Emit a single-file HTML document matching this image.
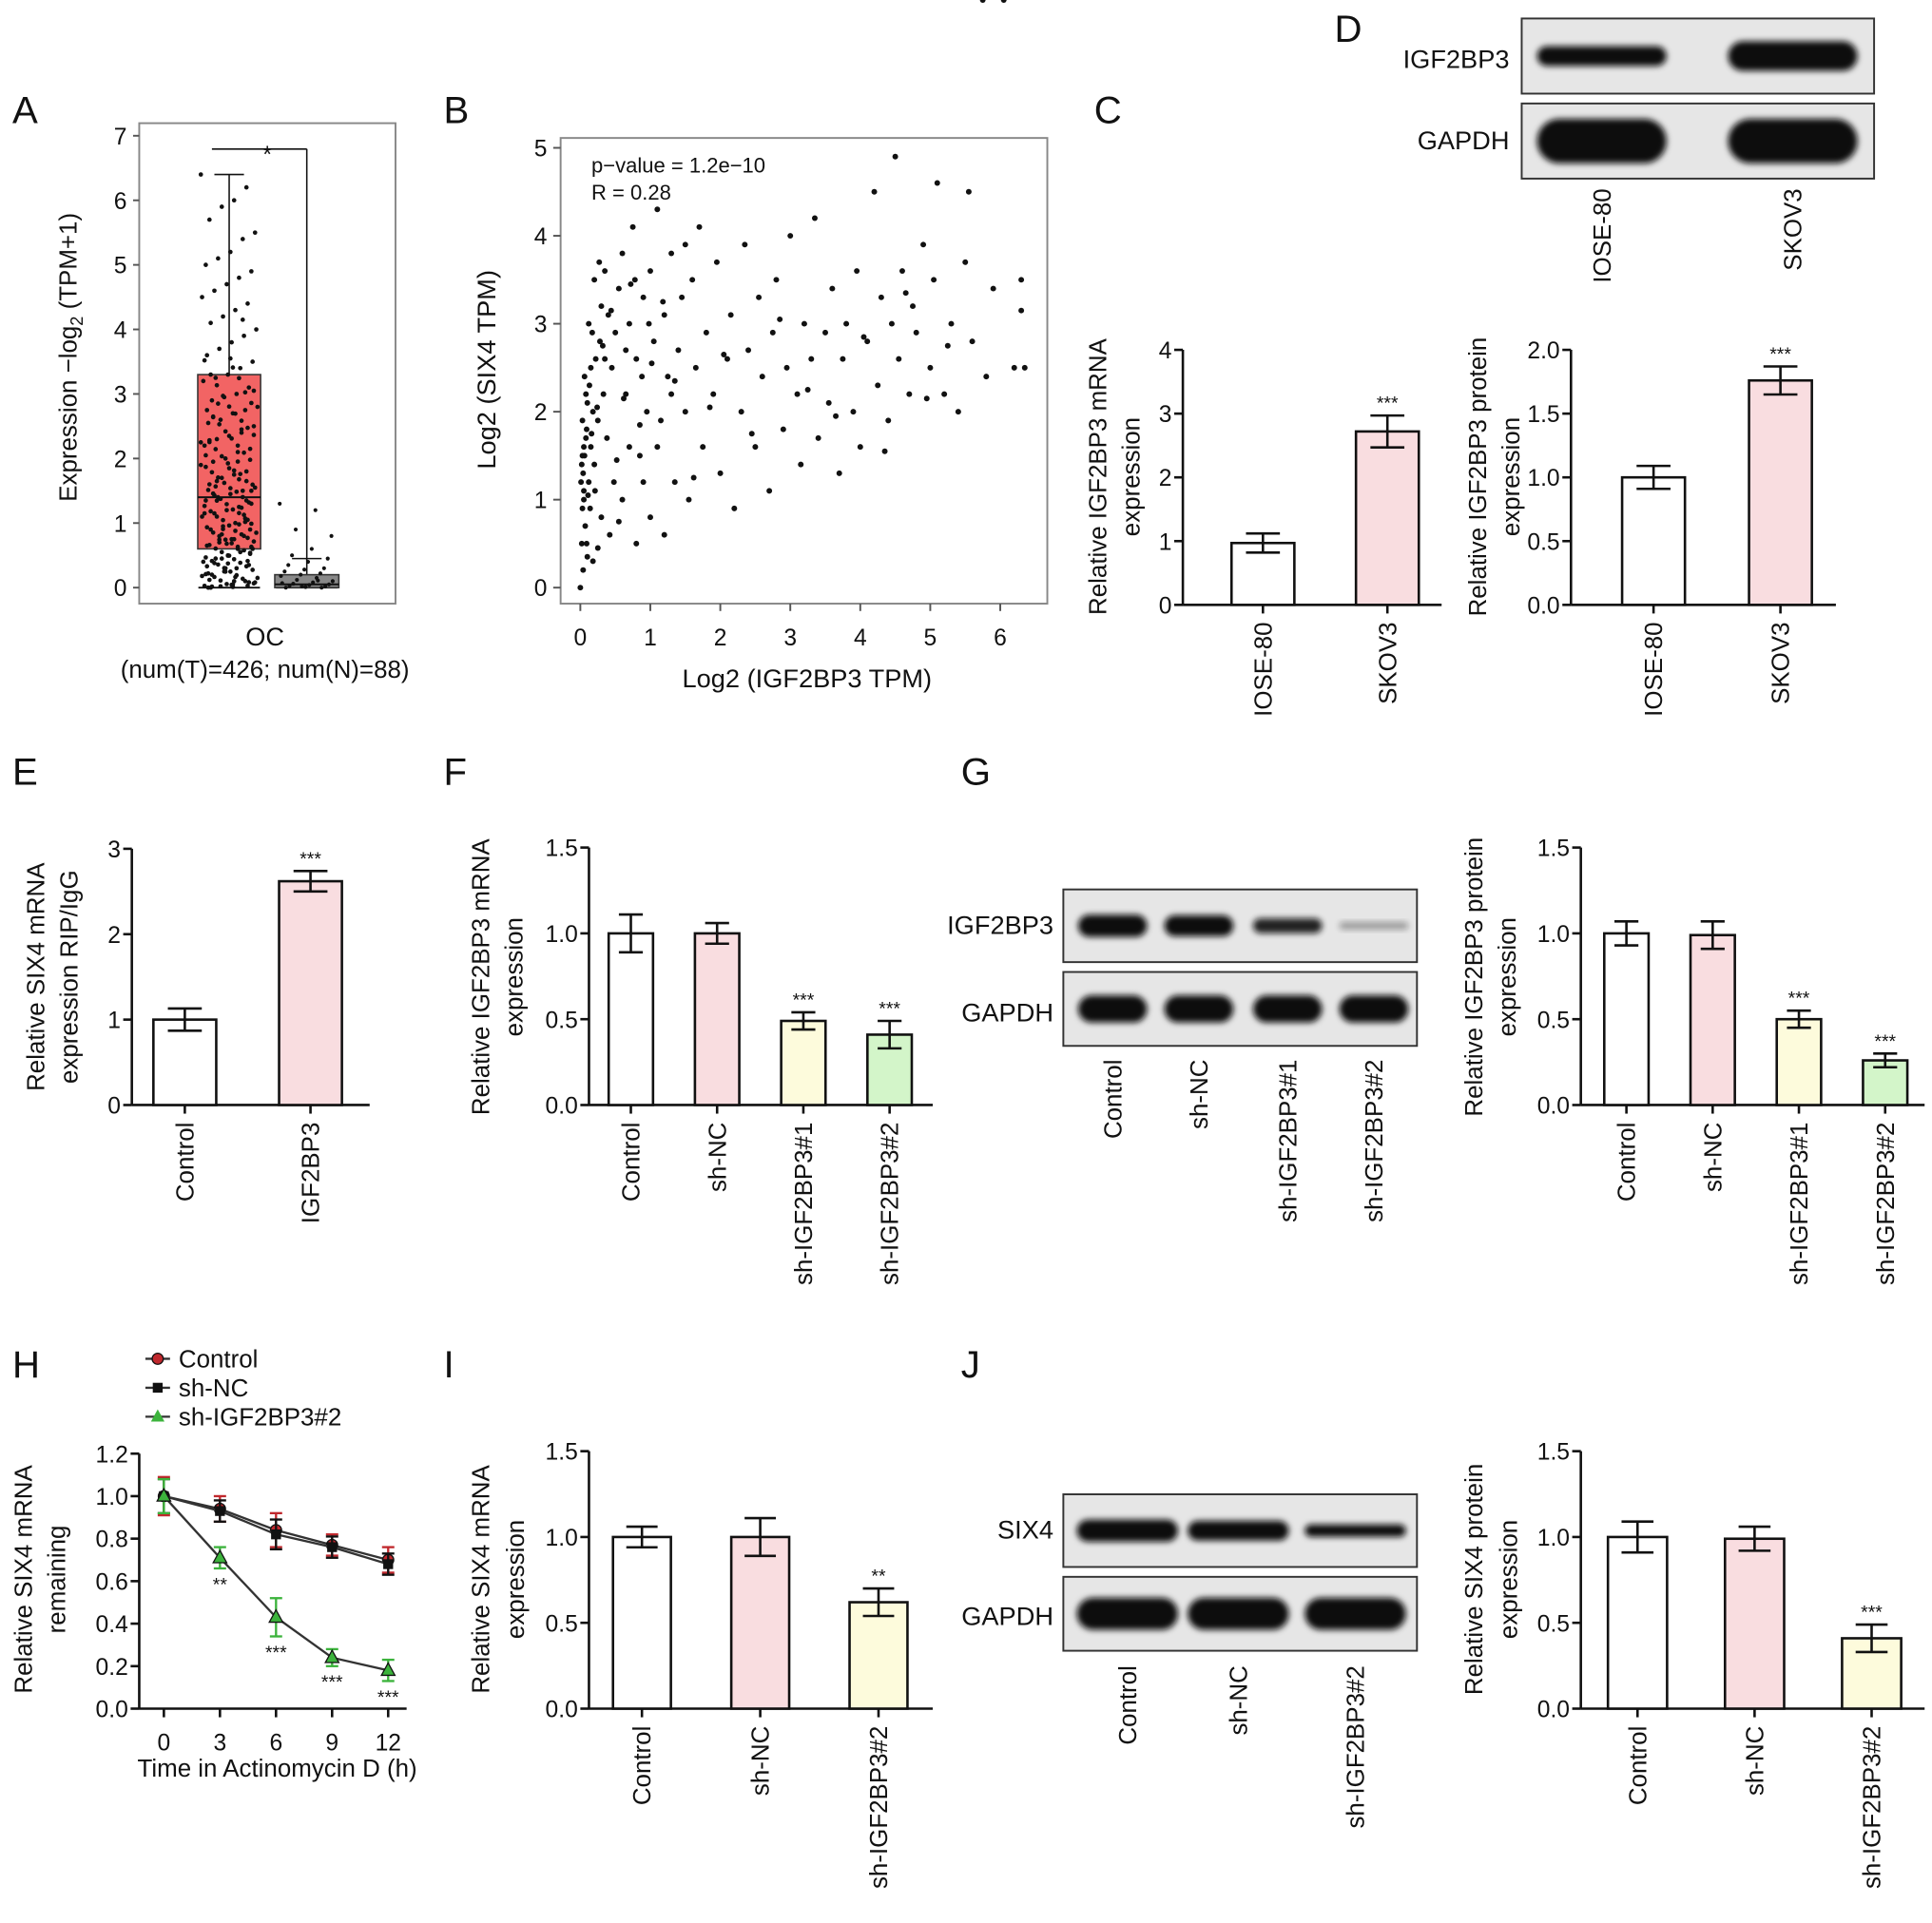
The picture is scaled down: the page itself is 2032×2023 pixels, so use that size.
<!DOCTYPE html>
<html><head><meta charset="utf-8"><style>
html,body{margin:0;padding:0;background:#fff;}
svg{display:block;font-family:"Liberation Sans",Arial,sans-serif;}
</style></head><body>
<svg id="fig" xmlns="http://www.w3.org/2000/svg" width="2032" height="2023" viewBox="0 0 1568 1561" preserveAspectRatio="none">
<defs><filter id="blur" x="-20%" y="-50%" width="140%" height="200%"><feGaussianBlur stdDeviation="2.5"/></filter></defs>
<rect x="0" y="0" width="1568" height="1561" fill="#fff"/>
</svg>
<script>
// ---------- DATA ----------
const aTumorVals=[6.4,6.2,6.0,5.9,5.7,5.5,5.4,5.2,5.1,5.0,4.9,4.8,4.7,4.6,4.5,4.4,4.3,4.2,4.1,4.0,3.9,3.8,3.7,3.6,3.5,3.4,3.3,3.25,3.2,3.1,3.0,2.95,2.9,2.8,2.75,2.7,2.6,2.55,2.5,2.4,2.35,2.3,2.2,2.15,2.1,2.0,1.95,1.9,1.8,1.75,1.7,1.6,1.55,1.5,1.45,1.4,1.35,1.3,1.25,1.2,1.15,1.1,1.05,1.0,0.95,0.9,0.85,0.8,0.75,0.7,0.65,0.6,0.55,0.5,0.45,0.4,0.35,0.3,0.25,0.2,0.15,0.1,0.05,0.02,0.0,3.05,2.45,1.85,1.65,1.15,0.9,0.6,0.3,2.65,2.25,1.35,0.75,0.45,0.12,0.08,4.15,3.55,2.85,2.05,1.5,0.98,0.68,0.38,0.18,0.03];
const aNormalVals=[1.3,1.2,0.9,0.8,0.6,0.5,0.45,0.4,0.35,0.3,0.28,0.25,0.22,0.2,0.18,0.15,0.12,0.1,0.08,0.06,0.05,0.04,0.03,0.02,0.01,0.0,0.0,0.02,0.07,0.11];
const aBoxStats=[[0,0.6,1.4,3.3,6.4],[0,0.0,0.05,0.2,0.45]];
const bX=[0,0.02,0.03,0.05,0.04,0.06,0.08,0.03,0.1,0.05,0.07,0.12,0.15,0.02,0.09,0.13,0.18,0.2,0.22,0.1,0.25,0.28,0.3,0.17,0.35,0.4,0.33,0.45,0.38,0.5,0.55,0.6,0.48,0.42,0.3,0.25,0.65,0.7,0.75,0.8,0.85,0.9,0.95,1.0,1.05,1.1,1.15,1.2,1.25,1.3,1.35,1.4,1.45,1.5,1.55,1.6,1.65,1.7,1.75,1.8,1.9,1.95,2.0,2.1,2.15,2.2,2.3,2.35,2.4,2.5,2.55,2.6,2.7,2.75,2.8,2.9,2.95,3.0,3.1,3.15,3.2,3.3,3.35,3.4,3.5,3.55,3.6,3.7,3.75,3.8,3.9,3.95,4.0,4.1,4.2,4.25,4.3,4.4,4.45,4.5,4.55,4.6,4.7,4.75,4.8,4.9,5.0,5.05,5.1,5.2,5.3,5.4,5.5,5.55,5.6,5.8,5.9,6.2,6.3,6.35,6.3,0.6,0.7,0.8,0.9,1.0,1.1,1.2,0.55,0.65,0.78,0.88,0.98,1.3,1.5,0.12,0.2,0.27,0.35,0.15,0.08,0.05,0.14,0.21,0.04,0.09,0.18,0.01,0.03,0.06,0.11,0.16,0.24,0.32,0.44,0.52,0.62,0.72,0.85,1.02,1.18,1.35,1.62,1.85,2.05,2.45,2.85,3.25,3.65,4.05,4.35,4.65,4.95,5.25,5.75,6.05];
const bY=[0,0.5,0.9,1.1,1.3,1.5,1.7,1.9,2.1,1.0,0.7,1.2,1.6,1.4,1.8,2.3,2.0,1.4,2.6,0.35,1.9,2.8,3.2,2.9,3.6,3.1,2.2,2.5,1.7,2.9,3.4,3.8,1.2,0.6,0.8,0.45,2.2,3.0,4.1,2.6,1.5,3.3,2.0,3.6,2.8,4.3,1.9,3.1,2.4,3.8,1.2,2.7,3.3,2.0,1.0,3.5,2.5,4.1,1.6,2.9,2.2,3.7,1.3,2.6,3.1,0.9,2.0,3.9,2.7,1.6,3.3,2.4,1.1,2.9,3.5,1.8,2.5,4.0,2.2,1.4,3.0,2.6,4.2,1.7,2.9,2.1,3.4,1.3,2.6,3.0,2.0,3.6,1.6,2.8,4.5,2.3,3.3,1.9,3.0,4.9,2.6,3.6,2.2,3.2,2.9,3.9,2.5,3.5,4.6,2.2,3.0,2.0,3.7,4.5,2.8,2.4,3.4,2.5,3.5,2.5,3.15,1.0,1.6,0.5,1.2,0.8,1.6,0.6,0.75,2.7,3.5,2.4,3.0,2.2,3.9,3.0,3.5,3.7,2.6,2.5,2.2,1.6,0.9,1.1,0.2,0.5,0.3,1.2,1.5,2.4,1.05,1.75,2.05,2.75,3.15,1.45,2.15,3.45,1.85,2.55,3.25,2.35,1.25,2.05,2.65,1.75,3.05,2.25,1.95,2.85,1.55,3.35,2.15,2.75];
const cCats=['IOSE-80','SKOV3'],cVals=[0.97,2.72],cErrs=[0.15,0.25],cSig=['','***'],cTicks=[0,1,2,3,4];
const dCats=['IOSE-80','SKOV3'],dVals=[1.0,1.76],dErrs=[0.09,0.11],dSig=['','***'],dTicks=[0,0.5,1.0,1.5,2.0];
const dBandTop=[16,24],dBandBot=[36,36];
const eCats=['Control','IGF2BP3'],eVals=[1.0,2.62],eErrs=[0.13,0.12],eSig=['','***'],eTicks=[0,1,2,3];
const fCats=['Control','sh-NC','sh-IGF2BP3#1','sh-IGF2BP3#2'],fVals=[1.0,1.0,0.49,0.41],fErrs=[0.11,0.06,0.05,0.08],fSig=['','','***','***'],fTicks=[0,0.5,1.0,1.5];
const gCats=['Control','sh-NC','sh-IGF2BP3#1','sh-IGF2BP3#2'],gVals=[1.0,0.99,0.5,0.26],gErrs=[0.07,0.08,0.05,0.04],gSig=['','','***','***'],gTicks=[0,0.5,1.0,1.5];
const gBandTop=[18,17,12,6],gBandTopOp=[1,1,0.9,0.35],gBandBot=[22,22,22,22];
const hTimes=[0,3,6,9,12],hTicksY=[0,0.2,0.4,0.6,0.8,1.0,1.2];
const hControl=[1.0,0.94,0.84,0.77,0.70],hShNC=[1.0,0.93,0.82,0.76,0.68],hSh2=[1.0,0.71,0.43,0.24,0.18];
const hErrC=[0.09,0.06,0.08,0.05,0.06],hErrN=[0.08,0.05,0.07,0.05,0.05],hErr2=[0.08,0.05,0.09,0.04,0.05],hSig=['','**','***','***','***'];
const iCats=['Control','sh-NC','sh-IGF2BP3#2'],iVals=[1.0,1.0,0.62],iErrs=[0.06,0.11,0.08],iSig=['','','**'],iTicks=[0,0.5,1.0,1.5];
const jCats=['Control','sh-NC','sh-IGF2BP3#2'],jVals=[1.0,0.99,0.41],jErrs=[0.09,0.07,0.08],jSig=['','','***'],jTicks=[0,0.5,1.0,1.5];
const jBandTop=[18,16,10],jBandBot=[26,26,26];
const fills4=['#ffffff','#f9dde0','#fdfbdc','#d3f5c9'];

// ---------- HELPERS ----------
const NS='http://www.w3.org/2000/svg';
const svg=document.getElementById('fig');
function mk(tag,attrs,name,parent){
  const e=document.createElementNS(NS,tag);
  for(const k in attrs)e.setAttribute(k,attrs[k]);
  
  
  (parent||svg).appendChild(e);return e;
}
function txt(x,y,s,size,anchor,name,rot){
  const a={x:x,y:y,'font-size':size,'text-anchor':anchor||'start',fill:'#111'};
  if(rot)a.transform='rotate('+rot+' '+x+' '+y+')';
  const t=mk('text',a,name);t.textContent=s;return t;
}
function line(x1,y1,x2,y2,name,w,c){return mk('line',{x1:x1,y1:y1,x2:x2,y2:y2,stroke:c||'#111','stroke-width':w||2},name);}
function fmt(v,dec){return dec?v.toFixed(1):String(v);}
function yAxis(ax,y0,yT,vmax,ticks,dec,prefix){
  line(ax,y0,ax,yT,prefix+'-y-axis');
  ticks.forEach(t=>{const y=y0-(y0-yT)*t/vmax;line(ax-7,y,ax,y,prefix+'-y-tick');txt(ax-9,y+7,fmt(t,dec),19,'end',prefix+'-y-tick-label');});
}
function barChart(p,cfg,cats,vals,errs,sig,ticks){
  const {ax,y0,yT,vmax,c0,step,bw,end,dec}=cfg;
  const sc=v=>y0-(y0-yT)*v/vmax;
  yAxis(ax,y0,yT,vmax,ticks,dec,p);
  line(ax,y0,end,y0,p+'-x-axis');
  cats.forEach((c,i)=>{
    const cx=c0+i*step,v=vals[i],e=errs[i];
    mk('rect',{x:cx-bw/2,y:sc(v),width:bw,height:y0-sc(v),fill:fills4[i],stroke:'#111','stroke-width':2},p+'-bar-'+c.toLowerCase());
    line(cx,sc(v-e),cx,sc(v+e),p+'-error-bar');
    line(cx-bw*0.27,sc(v+e),cx+bw*0.27,sc(v+e),p+'-error-cap');
    line(cx-bw*0.27,sc(v-e),cx+bw*0.27,sc(v-e),p+'-error-cap');
    line(cx,y0,cx,y0+7,p+'-x-tick');
    if(sig[i])txt(cx,sc(v+e)-5,sig[i],15,'middle',p+'-significance');
    txt(cx+7,y0+14,c,20,'end',p+'-x-label',-90);
  });
}
function blot(x,y,w,h,centers,bw,heights,ops,name){
  mk('rect',{x:x,y:y,width:w,height:h,fill:'#e6e6e6',stroke:'#333','stroke-width':1.5},name+'-membrane');
  centers.forEach((cx,i)=>{
    mk('rect',{x:cx-bw/2,y:y+h/2-heights[i]/2,width:bw,height:heights[i],rx:heights[i]/2,fill:'#111',opacity:ops?ops[i]:1,filter:'url(#blur)'},name+'-band');
  });
}

// ---------- PANEL LETTERS ----------
[['A',10,100],['B',360,100],['C',888,100],['D',1083,34],['E',10,637],['F',360,637],['G',780,637],['H',10,1118],['I',360,1118],['J',780,1118]].forEach(l=>txt(l[1],l[2],l[0],31,'start','panel-letter-'+l[0].toLowerCase()));

// ---------- A ----------
(function(){
  const y0=477,per=52.4,sy=v=>y0-v*per;
  mk('rect',{x:113,y:100,width:208,height:390,fill:'none',stroke:'#888','stroke-width':1.5},'a-plot-frame');
  [0,1,2,3,4,5,6,7].forEach(t=>{line(108,sy(t),113,sy(t),'a-y-tick',1.5,'#555');txt(103,sy(t)+7,String(t),19,'end','a-y-tick-label');});
  const cents=[186,249],ws=[51,52],fills=['#f26464','#888'];
  aBoxStats.forEach((s,i)=>{
    const cx=cents[i];
    line(cx,sy(s[3]),cx,sy(s[4]),'a-whisker',1.2);line(cx-12,sy(s[4]),cx+12,sy(s[4]),'a-whisker-cap',1.2);
    line(cx-25,sy(s[0]),cx+25,sy(s[0]),'a-whisker-cap',1.5);
    mk('rect',{x:cx-ws[i]/2,y:sy(s[3]),width:ws[i],height:Math.max(2,sy(s[1])-sy(s[3])),fill:fills[i],stroke:'#333','stroke-width':1.2},'a-box');
    line(cx-ws[i]/2,sy(s[2]),cx+ws[i]/2,sy(s[2]),'a-median',1.5);
  });
  aTumorVals.forEach((v,i)=>{mk('circle',{cx:186+((i*37)%47)-23,cy:sy(v),r:1.8,fill:'#111'},'a-tumor-point');});
  aTumorVals.forEach((v,i)=>{mk('circle',{cx:186+((i*23)%41)-20,cy:sy(v*0.55),r:1.8,fill:'#111'},'a-tumor-point');});
  aNormalVals.forEach((v,i)=>{mk('circle',{cx:249+((i*29)%45)-22,cy:sy(v),r:1.6,fill:'#111'},'a-normal-point');});
  line(172,121,249,121,'a-sig-bracket',1.2);line(249,121,249,455,'a-sig-bracket',1.2);
  txt(217,132,'*',19,'middle','a-significance');
  txt(215,524,'OC',21,'middle','a-x-label');
  txt(215,550,'(num(T)=426; num(N)=88)',20,'middle','a-sample-sizes');
  const t=txt(62,290,'',20,'middle','a-y-axis-title',-90);
  t.innerHTML='Expression −log<tspan font-size="14" dy="5">2</tspan><tspan dy="-5"> (TPM+1)</tspan>';
})();

// ---------- B ----------
(function(){
  const sx=v=>471+v*56.8,sy=v=>477-v*71.4;
  mk('rect',{x:455,y:112,width:395,height:378,fill:'none',stroke:'#888','stroke-width':1.5},'b-plot-frame');
  [0,1,2,3,4,5,6].forEach(t=>{line(sx(t),490,sx(t),496,'b-x-tick',1.5,'#555');txt(sx(t),524,String(t),19,'middle','b-x-tick-label');});
  [0,1,2,3,4,5].forEach(t=>{line(449,sy(t),455,sy(t),'b-y-tick',1.5,'#555');txt(444,sy(t)+7,String(t),19,'end','b-y-tick-label');});
  bX.forEach((x,i)=>{mk('circle',{cx:sx(x),cy:sy(bY[i]),r:2.3,fill:'#111'},'b-point');});
  txt(480,140,'p−value = 1.2e−10',17,'start','b-p-value');
  txt(480,162,'R = 0.28',17,'start','b-r-value');
  txt(655,558,'Log2 (IGF2BP3 TPM)',21,'middle','b-x-axis-title');
  txt(402,300,'Log2 (SIX4 TPM)',21,'middle','b-y-axis-title',-90);
})();

// ---------- C ----------
barChart('c',{ax:960,y0:491,yT:284,vmax:4,c0:1025,step:101,bw:51,end:1170,dec:false},cCats,cVals,cErrs,cSig,cTicks);
txt(898,387,'Relative IGF2BP3 mRNA',20,'middle','c-y-axis-title',-90);
txt(925,387,'expression',20,'middle','c-y-axis-title-2',-90);

// ---------- D ----------
blot(1235,15,286,61,[1300,1455],105,dBandTop,null,'d-blot-igf2bp3');
blot(1235,84,286,61,[1300,1455],105,dBandBot,null,'d-blot-gapdh');
txt(1225,55,'IGF2BP3',21,'end','d-blot-label-igf2bp3');
txt(1225,121,'GAPDH',21,'end','d-blot-label-gapdh');
dCats.forEach((c,i)=>txt([1300,1455][i]+7,153,c,20,'end','d-lane-label',-90));
barChart('d',{ax:1275,y0:491,yT:284,vmax:2,c0:1342,step:103,bw:51,end:1490,dec:true},dCats,dVals,dErrs,dSig,dTicks);
txt(1206,387,'Relative IGF2BP3 protein',20,'middle','d-y-axis-title',-90);
txt(1233,387,'expression',20,'middle','d-y-axis-title-2',-90);

// ---------- E ----------
barChart('e',{ax:107,y0:897,yT:689,vmax:3,c0:150,step:102,bw:51,end:300,dec:false},eCats,eVals,eErrs,eSig,eTicks);
txt(36,793,'Relative SIX4 mRNA',20,'middle','e-y-axis-title',-90);
txt(63,793,'expression RIP/IgG',20,'middle','e-y-axis-title-2',-90);

// ---------- F ----------
barChart('f',{ax:478,y0:897,yT:688,vmax:1.5,c0:512,step:70,bw:36,end:757,dec:true},fCats,fVals,fErrs,fSig,fTicks);
txt(397,793,'Relative IGF2BP3 mRNA',20,'middle','f-y-axis-title',-90);
txt(424,793,'expression',20,'middle','f-y-axis-title-2',-90);

// ---------- G ----------
const gC=[903,973,1045,1115];
blot(863,722,287,59,gC,56,gBandTop,gBandTopOp,'g-blot-igf2bp3');
blot(863,789,287,60,gC,56,gBandBot,null,'g-blot-gapdh');
txt(855,758,'IGF2BP3',21,'end','g-blot-label-igf2bp3');
txt(855,829,'GAPDH',21,'end','g-blot-label-gapdh');
gCats.forEach((c,i)=>txt(gC[i]+7,860,c,20,'end','g-lane-label',-90));
barChart('g',{ax:1283,y0:897,yT:688,vmax:1.5,c0:1320,step:70,bw:36,end:1562,dec:true},gCats,gVals,gErrs,gSig,gTicks);
txt(1203,793,'Relative IGF2BP3 protein',20,'middle','g-y-axis-title',-90);
txt(1230,793,'expression',20,'middle','g-y-axis-title-2',-90);

// ---------- H ----------
(function(){
  const sx=t=>133+t*15.17,sy=v=>1387-v*172.5;
  yAxis(113,1387,sy(1.2),1.2,hTicksY,true,'h');
  line(113,1387,330,1387,'h-x-axis');
  hTimes.forEach(t=>{line(sx(t),1387,sx(t),1394,'h-x-tick');txt(sx(t),1421,String(t),19,'middle','h-x-tick-label');});
  const series=[[hControl,hErrC,'#c0282d','circle','control'],[hShNC,hErrN,'#111','square','sh-nc'],[hSh2,hErr2,'#3cb33c','triangle','sh-igf2bp3-2']];
  series.forEach(s=>{
    const [vals,errs,col,shape,nm]=s;
    mk('polyline',{points:vals.map((v,i)=>sx(hTimes[i])+','+sy(v)).join(' '),fill:'none',stroke:'#333','stroke-width':1.8},'h-line-'+nm);
    vals.forEach((v,i)=>{
      const x=sx(hTimes[i]),y=sy(v),e=errs[i];
      line(x,sy(v-e),x,sy(v+e),'h-error-bar-'+nm,1.8,col);
      line(x-5,sy(v+e),x+5,sy(v+e),'h-error-cap-'+nm,1.8,col);
      line(x-5,sy(v-e),x+5,sy(v-e),'h-error-cap-'+nm,1.8,col);
      if(shape==='circle')mk('circle',{cx:x,cy:y,r:4.5,fill:col,stroke:'#111','stroke-width':1},'h-marker-'+nm);
      else if(shape==='square')mk('rect',{x:x-4,y:y-4,width:8,height:8,fill:col},'h-marker-'+nm);
      else mk('polygon',{points:(x)+','+(y-6)+' '+(x-5.5)+','+(y+4)+' '+(x+5.5)+','+(y+4),fill:col,stroke:'#111','stroke-width':1},'h-marker-'+nm);
    });
  });
  hSh2.forEach((v,i)=>{if(hSig[i])txt(sx(hTimes[i]),sy(v-hErr2[i])+18,hSig[i],15,'middle','h-significance');});
  const leg=[['Control','#c0282d','circle'],['sh-NC','#111','square'],['sh-IGF2BP3#2','#3cb33c','triangle']];
  leg.forEach((l,i)=>{
    const y=1103+i*23.5;
    line(118,y,138,y,'h-legend-line',1.8,'#333');
    if(l[2]==='circle')mk('circle',{cx:128,cy:y,r:4.5,fill:l[1],stroke:'#111','stroke-width':1},'h-legend-marker');
    else if(l[2]==='square')mk('rect',{x:124,y:y-4,width:8,height:8,fill:l[1]},'h-legend-marker');
    else mk('polygon',{points:'128,'+(y-6)+' 122.5,'+(y+4)+' 133.5,'+(y+4),fill:l[1]},'h-legend-marker');
    txt(145,y+7,l[0],20,'start','h-legend-entry');
  });
  txt(225,1442,'Time in Actinomycin D (h)',20,'middle','h-x-axis-title');
  txt(26,1282,'Relative SIX4 mRNA',20,'middle','h-y-axis-title',-90);
  txt(53,1282,'remaining',20,'middle','h-y-axis-title-2',-90);
})();

// ---------- I ----------
barChart('i',{ax:478,y0:1387,yT:1178,vmax:1.5,c0:521,step:96,bw:47,end:757,dec:true},iCats,iVals,iErrs,iSig,iTicks);
txt(397,1282,'Relative SIX4 mRNA',20,'middle','i-y-axis-title',-90);
txt(425,1282,'expression',20,'middle','i-y-axis-title-2',-90);

// ---------- J ----------
const jC=[915,1005,1100];
blot(863,1213,287,59,jC,82,jBandTop,null,'j-blot-six4');
blot(863,1280,287,60,jC,82,jBandBot,null,'j-blot-gapdh');
txt(855,1249,'SIX4',21,'end','j-blot-label-six4');
txt(855,1319,'GAPDH',21,'end','j-blot-label-gapdh');
jCats.forEach((c,i)=>txt(jC[i]+7,1352,c,20,'end','j-lane-label',-90));
barChart('j',{ax:1283,y0:1387,yT:1178,vmax:1.5,c0:1329,step:95,bw:48,end:1562,dec:true},jCats,jVals,jErrs,jSig,jTicks);
txt(1203,1282,'Relative SIX4 protein',20,'middle','j-y-axis-title',-90);
txt(1231,1282,'expression',20,'middle','j-y-axis-title-2',-90);
</script>
</body></html>
